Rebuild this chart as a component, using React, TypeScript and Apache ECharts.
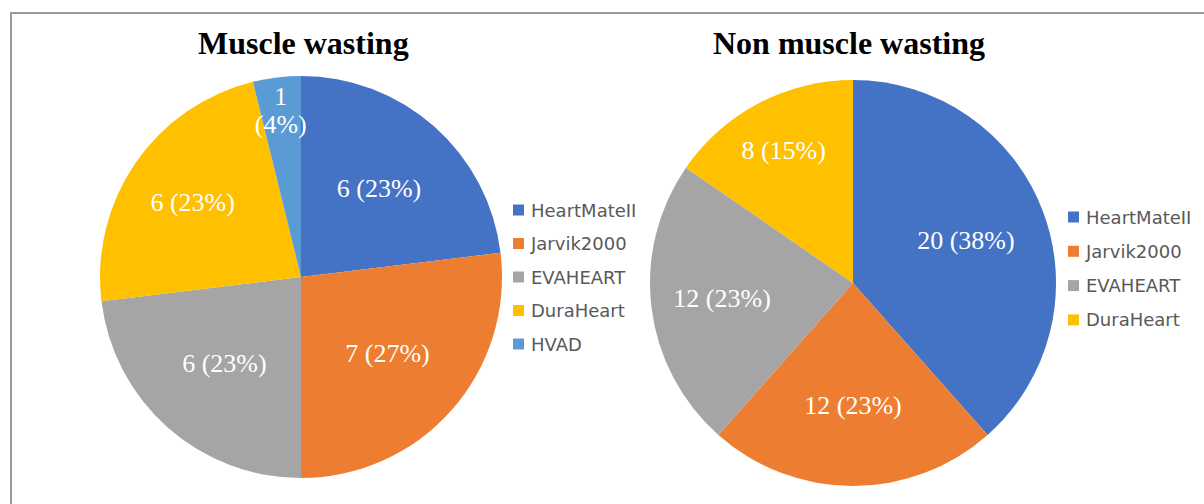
import React, { useEffect, useRef } from "react";
import * as echarts from "echarts";

const categoriesLeft = ["HeartMateII", "Jarvik2000", "EVAHEART", "DuraHeart", "HVAD"];
const valuesLeft = [6, 7, 6, 6, 1];
const categoriesRight = ["HeartMateII", "Jarvik2000", "EVAHEART", "DuraHeart"];
const valuesRight = [20, 12, 12, 8];
const titles = ["Muscle wasting", "Non muscle wasting"];
const colors: Record<string, string> = {
  HeartMateII: "#4472C4",
  Jarvik2000: "#ED7D31",
  EVAHEART: "#A5A5A5",
  DuraHeart: "#FFC000",
  HVAD: "#5B9BD5",
};
// radial position of each label as a fraction of the radius (layout only)
const labelFracLeft = [0.57, 0.56, 0.56, 0.64, 0.82];
const labelFracRight = [0.58, 0.59, 0.635, 0.72];

const labelFont = { color: "#fff", fontFamily: "Liberation Serif", fontSize: 26 };

export default function App() {
  const ref = useRef<HTMLDivElement>(null);
  useEffect(() => {
    if (!ref.current) return;
    const chart = echarts.init(ref.current, undefined, { renderer: "svg" });
    const mk = (cats: string[], vals: number[]) =>
      cats.map((c, i) => ({ name: c, value: vals[i], itemStyle: { color: colors[c] } }));
    const dataL = mk(categoriesLeft, valuesLeft);
    const dataR = mk(categoriesRight, valuesRight);
    const fmt = (p: any) => `${p.value} (${Math.round(p.percent)}%)`;
    const fmt2 = (p: any) => `${p.value}\n(${Math.round(p.percent)}%)`;
    const Lc = ["301", "277"];
    const Lr = 201;
    const Rc = ["853", "283"];
    const Rr = 203;
    const base = {
      type: "pie",
      startAngle: 90,
      clockwise: true,
      avoidLabelOverlap: false,
      labelLine: { show: false },
      emphasis: { disabled: true },
      silent: true,
    };
    const labelSeries = (data: any[], center: string[], r: number, fracs: number[]) =>
      data.map((item, idx) => ({
        ...base,
        center,
        radius: [(2 * fracs[idx] - 1) * r, r],
        data: data.map((x, j) => ({
          ...x,
          itemStyle: { color: "rgba(0,0,0,0)" },
          label: { show: j === idx },
        })),
        label: {
          position: "inside",
          formatter: item.value / data.reduce((s, d) => s + d.value, 0) < 0.05 ? fmt2 : fmt,
          lineHeight: 28,
          ...labelFont,
        },
      }));
    const legendBase = {
      orient: "vertical",
      itemWidth: 11,
      itemHeight: 11,
      icon: "rect",
      padding: 0,
      selectedMode: false,
      textStyle: { fontFamily: "DejaVu Sans", fontSize: 18, color: "#595959", lineHeight: 20, padding: [0, 0, 0, 2] },
    };
    const titleStyle = { fontFamily: "Liberation Serif", fontWeight: "bold", fontSize: 32, color: "#000" };
    chart.setOption({
      animation: false,
      title: [
        { text: titles[0], left: 198, top: 27, padding: 0, textStyle: titleStyle },
        { text: titles[1], left: 713, top: 27, padding: 0, textStyle: titleStyle },
      ],
      legend: [
        {
          ...legendBase,
          left: 513,
          top: 200,
          itemGap: 13.5,
          data: categoriesLeft.map((c) => ({ name: c, itemStyle: { color: colors[c] } })),
        },
        {
          ...legendBase,
          left: 1068,
          top: 207,
          itemGap: 14.3,
          data: categoriesRight.map((c) => ({ name: c, itemStyle: { color: colors[c] } })),
        },
      ],
      graphic: [
        {
          type: "rect",
          shape: { x: 11, y: 13, width: 1300, height: 600 },
          style: { fill: "none", stroke: "#9a9a9a", lineWidth: 2 },
          silent: true,
        },
      ],
      series: [
        { ...base, center: Lc, radius: [0, Lr], data: dataL, label: { show: false } },
        { ...base, center: Rc, radius: [0, Rr], data: dataR, label: { show: false } },
        ...labelSeries(dataL, Lc, Lr, labelFracLeft),
        ...labelSeries(dataR, Rc, Rr, labelFracRight),
      ],
    });
    return () => chart.dispose();
  }, []);
  return (
    <div
      ref={ref}
      style={{ position: "fixed", left: 0, top: 0, width: 1204, height: 504, background: "#fff" }}
    />
  );
}
